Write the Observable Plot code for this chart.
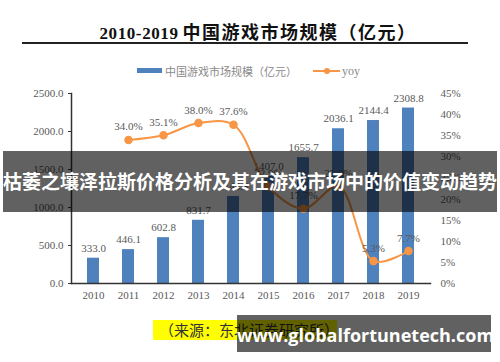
<!DOCTYPE html>
<html>
<head>
<meta charset="utf-8">
<script src="https://cdn.jsdelivr.net/npm/d3@7"></script>
<script src="https://cdn.jsdelivr.net/npm/@observablehq/plot@0.6"></script>
<style>
  html, body { margin: 0; padding: 0; background: #fff; }
  #wrap { position: relative; width: 500px; height: 362px; overflow: hidden; background: #fff; }
  .abs { position: absolute; }
  #title { left: 8px; width: 500px; top: 18px; text-align: center; color: #111; white-space: nowrap; line-height: 24px; }
  #titleA { font: bold 17px "Liberation Serif", serif; letter-spacing: 0.6px; }
  #titleB { font: bold 18px "Noto Sans CJK SC", sans-serif; letter-spacing: 1.5px; }
  #rule { left: 22px; width: 446px; top: 42px; height: 2px; background: #222; }
  .leg { font: 11px "Noto Sans CJK SC", sans-serif; color: #8a8a8a; white-space: nowrap; }
  #band { left: 3px; width: 494px; top: 151px; height: 61px; background: rgba(0,0,0,0.62); }
  #bandText { left: 0; width: 500px; top: 166px; text-align: center; font: bold 19px "Noto Sans CJK SC", sans-serif; color: #fff; white-space: nowrap; line-height: 30px; }
  #src { left: 153px; width: 184px; top: 320px; height: 20px; background: #ffff00; font: 15px "Noto Sans CJK SC", sans-serif; color: #333; line-height: 20px; padding-left: 6px; box-sizing: border-box; white-space: nowrap; overflow: hidden; }
  #wm { left: 237px; width: 254px; top: 315px; height: 37px; background: rgba(0,0,0,0.62); }
  #wmText { left: 237px; width: 254px; top: 322px; text-align: center; font: bold 18px "Open Sans", "DejaVu Sans", sans-serif; color: #fff; line-height: 26px; white-space: nowrap; }
</style>
</head>
<body>
<div id="wrap">
  <div id="chart" class="abs" style="left:0;top:0"></div>
  <div id="title" class="abs"><span id="titleA"></span> <span id="titleB"></span></div>
  <div id="rule" class="abs"></div>
  <div class="abs" style="left:137px;top:68px;width:25px;height:5px;background:#4f81bd"></div>
  <div class="abs leg" id="legBar" style="left:165px;top:62px;line-height:18px"></div>
  <div class="abs" style="left:313px;top:70px;width:27px;height:2px;background:#f79646"></div>
  <div class="abs" style="left:324px;top:68px;width:6px;height:6px;border-radius:3px;background:#f79646"></div>
  <div class="abs leg" id="legLine" style="left:342px;top:62px;line-height:18px;font-family:'Liberation Serif',serif;font-size:12px"></div>
  <div id="src" class="abs"></div>
  <div id="band" class="abs"></div>
  <div id="bandText" class="abs"></div>
  <div id="wm" class="abs"></div>
  <div id="wmText" class="abs"></div>
</div>
<script>
// ---- data ----
const years = [2010, 2011, 2012, 2013, 2014, 2015, 2016, 2017, 2018, 2019];
const marketSize = [333.0, 446.1, 602.8, 831.7, 1144.8, 1407.0, 1655.7, 2036.1, 2144.4, 2308.8];
const yoyYears = [2011, 2012, 2013, 2014, 2015, 2016, 2017, 2018, 2019];
const yoy = [34.0, 35.1, 38.0, 37.6, 22.9, 17.7, 23.0, 5.3, 7.7];
const leftTicks = [0, 500, 1000, 1500, 2000, 2500];
const rightTicks = [0, 5, 10, 15, 20, 25, 30, 35, 40, 45];
const titleYears = "2010-2019";
const titleRest = "中国游戏市场规模（亿元）";
const seriesBarName = "中国游戏市场规模（亿元）";
const seriesLineName = "yoy";
const sourceText = "（来源：东北证券研究所）";
const overlayText = "枯萎之壤泽拉斯价格分析及其在游戏市场中的价值变动趋势";
const watermarkText = "www.globalfortunetech.com";

document.getElementById("titleA").textContent = titleYears;
document.getElementById("titleB").textContent = titleRest;
document.getElementById("legBar").textContent = seriesBarName;
document.getElementById("legLine").textContent = seriesLineName;
document.getElementById("src").textContent = sourceText;
document.getElementById("bandText").textContent = overlayText;
document.getElementById("wmText").textContent = watermarkText;

const yMax = 2500, rMax = 45;
const toLeft = v => v * yMax / rMax;

const bars = years.map((y, i) => ({year: y, value: marketSize[i]}));
const line = yoyYears.map((y, i) => ({year: y, yoy: yoy[i], yv: toLeft(yoy[i])}));

const gray = "#595959";
const serif = "Liberation Serif, Times New Roman, serif";

const chart = Plot.plot({
  width: 500,
  height: 362,
  marginTop: 93,
  marginBottom: 79,
  marginLeft: 71,
  marginRight: 70,
  style: {fontFamily: serif, fontSize: "11px", color: gray, background: "transparent"},
  x: {type: "band", domain: years, paddingInner: 0.67, paddingOuter: 0.335, align: 0.5},
  y: {domain: [0, yMax]},
  marks: [
    Plot.barY(bars, {x: "year", y: "value", fill: "#4f81bd"}),
    Plot.text(bars, {x: "year", y: "value", text: d => d.value.toFixed(1), dy: -10, fill: gray, fontSize: 11}),
    Plot.line(line, {x: "year", y: "yv", stroke: "#f79646", strokeWidth: 2, curve: "catmull-rom"}),
    Plot.dot(line, {x: "year", y: "yv", r: 3.5, fill: "#f79646", stroke: "#f79646"}),
    Plot.text(line, {x: "year", y: "yv", text: d => d.yoy.toFixed(1) + "%", dy: -13, fill: gray, fontSize: 11}),
    Plot.frame({anchor: "left", stroke: "#333", strokeWidth: 1.5}),
    Plot.frame({anchor: "bottom", stroke: "#333", strokeWidth: 1.5}),
    Plot.axisY(leftTicks, {anchor: "left", tickSize: 3, tickPadding: 5, tickFormat: d => d.toFixed(1), label: null, stroke: "#333", fill: gray}),
    Plot.axisY(rightTicks.map(toLeft), {anchor: "right", tickSize: 0, tickPadding: 10, tickFormat: d => Math.round(d * rMax / yMax) + "%", label: null, fill: gray}),
    Plot.axisX(years, {tickSize: 0, tickPadding: 8, tickFormat: d => String(d), label: null, fill: gray})
  ]
});
document.getElementById("chart").appendChild(chart);
</script>
</body>
</html>
